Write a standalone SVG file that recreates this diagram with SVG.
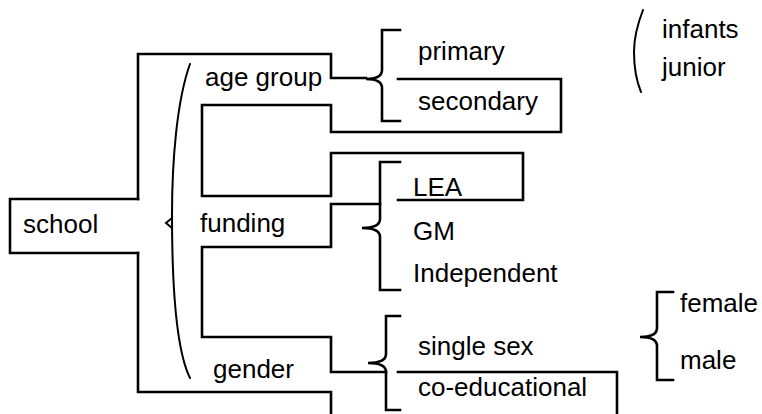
<svg xmlns="http://www.w3.org/2000/svg" width="762" height="414" viewBox="0 0 762 414">
<style>
.l{fill:none;stroke:#000;stroke-width:2.6;stroke-linejoin:miter;stroke-linecap:square}
.p{fill:none;stroke:#000;stroke-width:2;stroke-linecap:round}
text{font-family:"Liberation Sans",Arial,sans-serif;font-size:26px;fill:#000}
</style>
<rect width="762" height="414" fill="#fff"/>
<g id="connectors">
<path class="l" d="M138,199 V54 H331 V78 H366"/>
<path class="l" d="M138,253 V392 H331 V414"/>
<path class="l" d="M398,79 H561 V132 H331 V105 H202 V196 H331 V153 H523 V200 H398"/>
<path class="l" d="M380,204 H331 V247 H202 V337 H331 V372 H386"/>
<path class="l" d="M398,372 H617 V414"/>
<path class="p" d="M190,64 C177,100 172,160 172,215 C172,290 176,350 190,378"/>
<path class="p" d="M172,218 L166,223 L172,228"/>
<path class="p" d="M643,10 C636,28 634,42 634,52 C634,64 636,80 641,92"/>
</g>
<g id="school"><path class="l" d="M138,199 H10 V253 H138"/><text x="23" y="233">school</text></g>
<g id="agegroup"><text x="205" y="86">age group</text></g>
<g id="funding"><text x="200" y="232">funding</text></g>
<g id="gender"><text x="213" y="378">gender</text></g>
<g id="brace-age"><path class="l" d="M400,30 H382 V70 Q382,79 366,79 Q382,79 382,88 V121 H400"/></g>
<g id="primary"><text x="418" y="60">primary</text></g>
<g id="secondary"><text x="418" y="110">secondary</text></g>
<g id="infants"><text x="662" y="38">infants</text></g>
<g id="junior"><text x="662" y="76">junior</text></g>
<g id="brace-funding"><path class="l" d="M400,162 H380 V219 Q380,228 362,228 Q380,228 380,237 V290 H400"/></g>
<g id="lea"><text x="413" y="196">LEA</text></g>
<g id="gm"><text x="413" y="240">GM</text></g>
<g id="independent"><text x="413" y="282">Independent</text></g>
<g id="brace-gender"><path class="l" d="M400,316 H386 V354 Q386,363 368,363 Q386,363 386,372 V410 H400"/></g>
<g id="singlesex"><text x="418" y="355">single sex</text></g>
<g id="coed"><text x="418" y="396">co-educational</text></g>
<g id="brace-sex"><path class="l" d="M673,292 H657 V328 Q657,337 640,337 Q657,337 657,346 V380 H673"/></g>
<g id="female"><text x="680" y="312">female</text></g>
<g id="male"><text x="680" y="369">male</text></g>
</svg>
